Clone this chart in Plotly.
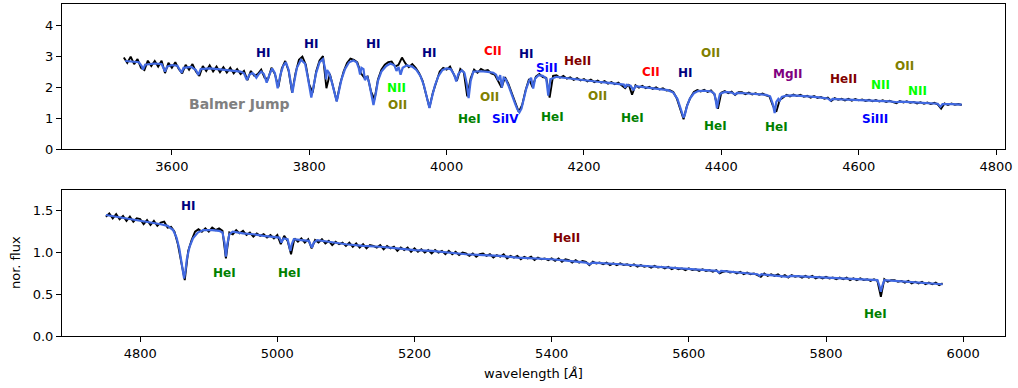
import numpy as np
import plotly.graph_objects as go

# ---------------- data ----------------
# Observed spectrum, sampled every 5 A
obs_top_start, obs_top_step = 3530, 5
obs_top_flux = [
    2.95, 2.78, 2.98, 2.74, 2.90, 2.62, 2.55, 2.85, 2.68, 2.84,
    2.66, 2.85, 2.45, 2.78, 2.62, 2.80, 2.58, 2.44, 2.72, 2.56,
    2.74, 2.50, 2.36, 2.68, 2.52, 2.70, 2.50, 2.66, 2.48, 2.64,
    2.47, 2.62, 2.44, 2.58, 2.42, 2.52, 2.22, 2.52, 2.36, 2.42,
    2.56, 2.30, 2.25, 2.62, 2.42, 2.00, 2.60, 2.84, 2.52, 1.82,
    2.45, 2.88, 2.98, 2.72, 2.08, 1.82, 2.50, 2.86, 3.00, 1.96,
    2.42, 1.96, 1.55, 2.10, 2.50, 2.78, 2.92, 2.88, 2.80, 2.45,
    2.30, 2.34, 1.85, 1.60, 2.24, 2.56, 2.72, 2.80, 2.82, 2.66,
    2.72, 2.95, 2.76, 2.64, 2.74, 2.62, 2.45, 2.20, 1.78, 1.34,
    1.82, 2.18, 2.50, 2.62, 2.56, 2.66, 2.40, 2.20, 2.58, 2.48,
    1.70, 2.28, 2.56, 2.46, 2.58, 2.52, 2.55, 2.44, 2.40, 2.20,
    1.98, 2.32, 2.10, 1.80, 1.48, 1.20, 1.42, 1.90, 2.26, 2.00,
    2.34, 2.42, 2.32, 2.30, 1.66, 2.36, 2.38, 2.30, 2.36, 2.27,
    2.31, 2.23, 2.29, 2.21, 2.26, 2.18, 2.24, 2.16, 2.21, 2.14,
    2.19, 2.11, 2.16, 2.09, 2.14, 2.06, 1.96, 2.09, 1.75, 2.06,
    1.98, 2.04, 1.96, 2.01, 1.94, 1.99, 1.92, 1.96, 1.89, 1.90,
    1.84, 1.64, 1.33, 0.96, 1.40, 1.66, 1.84, 1.90, 1.86, 1.91,
    1.84, 1.89, 1.76, 1.30, 1.82, 1.87, 1.80, 1.85, 1.74, 1.83,
    1.83, 1.77, 1.82, 1.76, 1.80, 1.75, 1.79, 1.73, 1.70, 1.40,
    1.20, 1.58, 1.66, 1.75, 1.70, 1.76, 1.71, 1.75, 1.69, 1.72,
    1.66, 1.71, 1.65, 1.68, 1.62, 1.66, 1.55, 1.64, 1.59, 1.62,
    1.57, 1.62, 1.56, 1.61, 1.57, 1.60, 1.55, 1.59, 1.54, 1.58,
    1.53, 1.57, 1.52, 1.56, 1.51, 1.48, 1.55, 1.50, 1.54, 1.49,
    1.52, 1.47, 1.51, 1.46, 1.50, 1.45, 1.49, 1.44, 1.30, 1.47,
    1.42, 1.47, 1.43, 1.45, 1.42,
]
obs_bot_start, obs_bot_step = 4750, 5
obs_bot_flux = [
    1.43, 1.47, 1.41, 1.46, 1.40, 1.44, 1.38, 1.43, 1.37, 1.41,
    1.40, 1.34, 1.39, 1.33, 1.38, 1.32, 1.36, 1.37, 1.30, 1.31,
    1.25, 1.10, 0.88, 0.67, 1.02, 1.15, 1.25, 1.28, 1.25, 1.29,
    1.25, 1.30, 1.27, 1.29, 1.26, 0.93, 1.24, 1.22, 1.27, 1.23,
    1.26, 1.21, 1.24, 1.19, 1.23, 1.20, 1.22, 1.18, 1.21, 1.17,
    1.21, 1.10, 1.20, 1.14, 0.98, 1.17, 1.13, 1.17, 1.12, 1.16,
    1.05, 1.15, 1.12, 1.16, 1.11, 1.14, 1.09, 1.13, 1.10, 1.12,
    1.08, 1.12, 1.07, 1.11, 1.06, 1.10, 1.05, 1.09, 1.08, 1.06,
    1.09, 1.04, 1.08, 1.05, 1.07, 1.02, 1.06, 1.03, 1.06, 1.01,
    1.05, 1.01, 1.04, 1.00, 1.03, 0.99, 1.03, 1.00, 1.02, 0.98,
    1.02, 0.98, 1.01, 0.97, 1.00, 0.99, 0.96, 0.99, 0.95, 0.98,
    0.99, 0.96, 0.98, 0.94, 0.97, 0.95, 0.98, 0.93, 0.96, 0.94,
    0.96, 0.92, 0.95, 0.93, 0.95, 0.91, 0.94, 0.92, 0.93, 0.91,
    0.93, 0.90, 0.93, 0.89, 0.92, 0.91, 0.88, 0.91, 0.88, 0.90,
    0.89, 0.85, 0.89, 0.87, 0.88, 0.86, 0.88, 0.85, 0.87, 0.85,
    0.87, 0.85, 0.86, 0.84, 0.86, 0.83, 0.85, 0.83, 0.84, 0.82,
    0.84, 0.82, 0.83, 0.81, 0.83, 0.80, 0.82, 0.80, 0.81, 0.79,
    0.81, 0.79, 0.80, 0.78, 0.80, 0.78, 0.79, 0.77, 0.79, 0.75,
    0.77, 0.78, 0.76, 0.77, 0.75, 0.77, 0.74, 0.76, 0.74, 0.75,
    0.73, 0.71, 0.75, 0.72, 0.74, 0.72, 0.74, 0.71, 0.73, 0.70,
    0.73, 0.71, 0.72, 0.70, 0.72, 0.70, 0.72, 0.69, 0.71, 0.69,
    0.71, 0.69, 0.70, 0.68, 0.70, 0.68, 0.70, 0.67, 0.69, 0.67,
    0.69, 0.67, 0.68, 0.66, 0.68, 0.66, 0.47, 0.68, 0.65, 0.67,
    0.67, 0.65, 0.66, 0.64, 0.66, 0.63, 0.65, 0.63, 0.65, 0.62,
    0.64, 0.62, 0.64, 0.61, 0.63,
]

# Model spectrum (wavelength, flux)
model_top_wl = [
    3532, 3545, 3552, 3556, 3558, 3561, 3575, 3585, 3588, 3590, 3593, 3600,
    3608, 3611, 3614, 3617, 3628, 3635, 3638.5, 3642, 3655, 3670, 3685, 3695,
    3700, 3705, 3709, 3713, 3717, 3720, 3723, 3726, 3730, 3734, 3738, 3742,
    3746, 3750, 3754, 3758, 3762, 3766, 3770, 3773, 3775.5, 3778, 3782, 3788,
    3794, 3798, 3801, 3803, 3806, 3810, 3815, 3820, 3823, 3824.5, 3826, 3829,
    3833, 3837, 3840, 3843, 3847, 3852, 3858, 3864, 3869, 3872, 3874, 3876,
    3879, 3881, 3884, 3887, 3890, 3893.5, 3897, 3900, 3905, 3912, 3918, 3924,
    3927, 3930, 3933, 3936, 3942, 3950, 3956, 3962, 3967, 3971, 3975, 3979,
    3983, 3988, 3994, 4000, 4006, 4011, 4014, 4017, 4022, 4026, 4029, 4032,
    4035, 4039, 4050, 4060, 4068, 4072, 4075, 4078, 4080.5, 4083, 4086, 4090,
    4095, 4100, 4103, 4106, 4109, 4112, 4116, 4120, 4123, 4126, 4129, 4134,
    4140, 4145, 4148, 4151, 4160, 4170, 4180, 4190, 4200, 4210, 4220, 4230,
    4240, 4250, 4258, 4260, 4262, 4268, 4272, 4275, 4285, 4295, 4305, 4315,
    4322, 4330, 4336, 4340, 4343, 4345, 4347, 4350, 4354, 4360, 4366, 4375,
    4385, 4390, 4392, 4393.6, 4395.5, 4398, 4405, 4415, 4420, 4423, 4435, 4445,
    4455, 4465, 4471, 4475, 4477.6, 4480, 4483, 4485, 4488, 4495, 4505, 4515,
    4525, 4535, 4545, 4555, 4559, 4562, 4575, 4590, 4600, 4615, 4630, 4645,
    4656, 4660, 4675, 4690, 4705, 4715, 4719, 4722, 4735, 4750,
]
model_top_flux = [
    2.84, 2.82, 2.80, 2.68, 2.56, 2.72, 2.76, 2.74, 2.62, 2.50, 2.66, 2.71,
    2.69, 2.58, 2.46, 2.62, 2.65, 2.55, 2.39, 2.58, 2.60, 2.57, 2.54, 2.51,
    2.50, 2.44, 2.23, 2.40, 2.45, 2.40, 2.30, 2.40, 2.50, 2.42, 2.14, 2.40,
    2.60, 2.45, 1.96, 2.40, 2.68, 2.80, 2.55, 2.15, 1.81, 2.15, 2.62, 2.88,
    2.75, 2.30, 1.95, 1.66, 2.00, 2.45, 2.80, 2.90, 2.60, 2.25, 2.55, 2.45,
    2.15, 1.80, 1.53, 1.85, 2.25, 2.58, 2.80, 2.86, 2.80, 2.62, 2.40, 2.62,
    2.58, 2.22, 2.35, 2.15, 1.80, 1.42, 1.80, 2.20, 2.50, 2.68, 2.76, 2.70,
    2.52, 2.65, 2.40, 2.62, 2.70, 2.66, 2.55, 2.35, 2.05, 1.70, 1.32, 1.70,
    2.05, 2.35, 2.55, 2.60, 2.58, 2.40, 2.18, 2.42, 2.54, 2.45, 2.15, 1.64,
    2.20, 2.50, 2.51, 2.49, 2.46, 2.40, 2.22, 2.38, 1.98, 2.30, 2.25, 2.05,
    1.78, 1.45, 1.28, 1.18, 1.30, 1.60, 1.95, 2.20, 2.30, 1.95, 2.28, 2.38,
    2.36, 2.28, 1.72, 2.25, 2.33, 2.30, 2.27, 2.25, 2.22, 2.20, 2.17, 2.15,
    2.13, 2.10, 2.08, 1.98, 2.07, 2.04, 1.90, 2.03, 2.00, 1.98, 1.96, 1.93,
    1.90, 1.82, 1.62, 1.35, 1.12, 1.01, 1.12, 1.38, 1.62, 1.80, 1.87, 1.88,
    1.86, 1.78, 1.55, 1.31, 1.55, 1.78, 1.84, 1.82, 1.76, 1.81, 1.80, 1.78,
    1.77, 1.75, 1.70, 1.45, 1.16, 1.52, 1.62, 1.56, 1.68, 1.72, 1.73, 1.72,
    1.70, 1.68, 1.66, 1.63, 1.56, 1.62, 1.60, 1.59, 1.59, 1.57, 1.56, 1.54,
    1.51, 1.53, 1.51, 1.49, 1.48, 1.46, 1.36, 1.45, 1.45, 1.43,
]
model_bot_wl = [
    4750, 4770, 4790, 4800, 4815, 4830, 4840, 4848, 4853, 4857, 4860, 4862,
    4864, 4866, 4868, 4872, 4877, 4884, 4892, 4905, 4915, 4920, 4923, 4925,
    4927, 4930, 4935, 4950, 4965, 4980, 4995, 5003, 5006, 5009, 5015, 5017,
    5019, 5021, 5024, 5035, 5046, 5048, 5050.5, 5053, 5058, 5075, 5100, 5125,
    5150, 5175, 5200, 5225, 5250, 5275, 5300, 5325, 5350, 5375, 5400, 5425,
    5450, 5455, 5460, 5500, 5550, 5600, 5641, 5644, 5647, 5700, 5703, 5706,
    5742, 5745, 5748, 5800, 5850, 5875, 5878, 5880, 5882, 5885, 5900, 5930,
    5950, 5970,
]
model_bot_flux = [
    1.45, 1.42, 1.39, 1.38, 1.36, 1.34, 1.32, 1.27, 1.18, 1.05, 0.90, 0.78,
    0.69, 0.78, 0.92, 1.07, 1.17, 1.24, 1.27, 1.27, 1.26, 1.24, 1.12, 0.95,
    1.10, 1.22, 1.25, 1.23, 1.22, 1.20, 1.19, 1.18, 1.12, 1.17, 1.16, 1.08,
    1.02, 1.10, 1.16, 1.15, 1.14, 1.10, 1.06, 1.12, 1.15, 1.13, 1.10, 1.08,
    1.07, 1.05, 1.03, 1.02, 1.00, 0.98, 0.97, 0.96, 0.94, 0.93, 0.92, 0.90,
    0.88, 0.86, 0.88, 0.86, 0.83, 0.80, 0.78, 0.76, 0.78, 0.74, 0.72, 0.74,
    0.72, 0.71, 0.72, 0.70, 0.68, 0.67, 0.60, 0.53, 0.60, 0.67, 0.66, 0.64,
    0.63, 0.62,
]

# Line identifications: (label, wavelength, y, colour)
top_labels = ["HI", "HI", "HI", "HI", "CII", "NII", "OII", "Balmer Jump", "HeI", "OII",
              "SiIV", "HI", "SiII", "HeII", "HeI", "OII", "HeI", "CII", "HI", "OII",
              "HeI", "MgII", "HeI", "HeII", "NII", "OII", "NII", "SiIII"]
top_label_x = [3733, 3803, 3893, 3975, 4068, 3927, 3929, 3698, 4033, 4062,
               4085, 4117, 4146, 4190, 4154, 4219, 4270, 4298, 4347.5, 4384,
               4391, 4496, 4480, 4578, 4632, 4667, 4685, 4624]
top_label_y = [3.10, 3.39, 3.39, 3.10, 3.16, 1.97, 1.42, 1.45, 0.97, 1.68,
               0.97, 3.06, 2.61, 2.84, 1.03, 1.71, 1.00, 2.48, 2.45, 3.10,
               0.74, 2.42, 0.71, 2.26, 2.06, 2.68, 1.87, 0.97]
bot_labels = ["HI", "HeI", "HeI", "HeII", "HeI"]
bot_label_x = [4871, 4923, 5017, 5422, 5872]
bot_label_y = [1.557, 0.753, 0.753, 1.173, 0.26]

ion_colors = {"HI": "#000080", "HeI": "#008000", "HeII": "#800000", "CII": "#FF0000",
              "NII": "#00FF00", "OII": "#808000", "SiII": "#0000FF", "SiIII": "#0000FF",
              "SiIV": "#0000FF", "MgII": "#800080", "Balmer Jump": "#808080"}

# ---------------- figure ----------------
W, H = 1018, 388
FONT = "DejaVu Sans"

obs_top_wl = obs_top_start + obs_top_step * np.arange(len(obs_top_flux))
obs_bot_wl = obs_bot_start + obs_bot_step * np.arange(len(obs_bot_flux))

fig = go.Figure()
fig.add_trace(go.Scatter(x=obs_top_wl, y=obs_top_flux, mode="lines",
                         line=dict(color="black", width=1.9), xaxis="x", yaxis="y"))
fig.add_trace(go.Scatter(x=model_top_wl, y=model_top_flux, mode="lines",
                         line=dict(color="#4169E1", width=2.2), xaxis="x", yaxis="y"))
fig.add_trace(go.Scatter(x=obs_bot_wl, y=obs_bot_flux, mode="lines",
                         line=dict(color="black", width=1.9), xaxis="x2", yaxis="y2"))
fig.add_trace(go.Scatter(x=model_bot_wl, y=model_bot_flux, mode="lines",
                         line=dict(color="#4169E1", width=2.2), xaxis="x2", yaxis="y2"))

x_dom = [62 / W, 1005 / W]
axis_common = dict(showline=True, mirror=True, linecolor="black", linewidth=1,
                   ticks="outside", ticklen=5, tickwidth=1, tickcolor="black",
                   showgrid=False, zeroline=False, automargin=False,
                   tickfont=dict(family=FONT, size=13, color="black"))

fig.update_layout(
    template="none",
    width=W, height=H, margin=dict(l=0, r=0, t=0, b=0, pad=0),
    paper_bgcolor="white", plot_bgcolor="white", showlegend=False,
    hovermode=False,
    xaxis=dict(domain=x_dom, anchor="y", range=[3440, 4813],
               tickvals=[3600, 3800, 4000, 4200, 4400, 4600, 4800], **axis_common),
    yaxis=dict(domain=[1 - 149 / H, 1 - 4 / H], anchor="x", range=[0, 4.68],
               tickvals=[0, 1, 2, 3, 4], **axis_common),
    xaxis2=dict(domain=x_dom, anchor="y2", range=[4686, 6061],
                tickvals=[4800, 5000, 5200, 5400, 5600, 5800, 6000], **axis_common),
    yaxis2=dict(domain=[1 - 336 / H, 1 - 190 / H], anchor="x2", range=[0, 1.75],
                tickvals=[0, 0.5, 1.0, 1.5], tickformat=".1f", **axis_common),
)

annotations = []
for lab, lx, ly in zip(top_labels, top_label_x, top_label_y):
    size = 14 if lab == "Balmer Jump" else 12
    annotations.append(dict(x=lx, y=ly, xref="x", yref="y", text=f"<b>{lab}</b>",
                            showarrow=False, xanchor="center", yanchor="middle",
                            font=dict(family=FONT, size=size, color=ion_colors[lab])))
for lab, lx, ly in zip(bot_labels, bot_label_x, bot_label_y):
    annotations.append(dict(x=lx, y=ly, xref="x2", yref="y2", text=f"<b>{lab}</b>",
                            showarrow=False, xanchor="center", yanchor="middle",
                            font=dict(family=FONT, size=12, color=ion_colors[lab])))
annotations.append(dict(x=533 / W, y=1 - 373 / H, xref="paper", yref="paper",
                        text="wavelength [<i>Å</i>]", showarrow=False,
                        xanchor="center", yanchor="middle",
                        font=dict(family=FONT, size=13, color="black")))
annotations.append(dict(x=15 / W, y=1 - 263 / H, xref="paper", yref="paper",
                        text="nor. flux", showarrow=False, textangle=-90,
                        xanchor="center", yanchor="middle",
                        font=dict(family=FONT, size=13, color="black")))
fig.update_layout(annotations=annotations)

fig.write_html(
    "out.html",
    config={"displayModeBar": False, "staticPlot": True},
    post_script="document.body.style.margin='0';document.body.style.padding='0';"
                "document.documentElement.style.overflow='hidden';",
)
